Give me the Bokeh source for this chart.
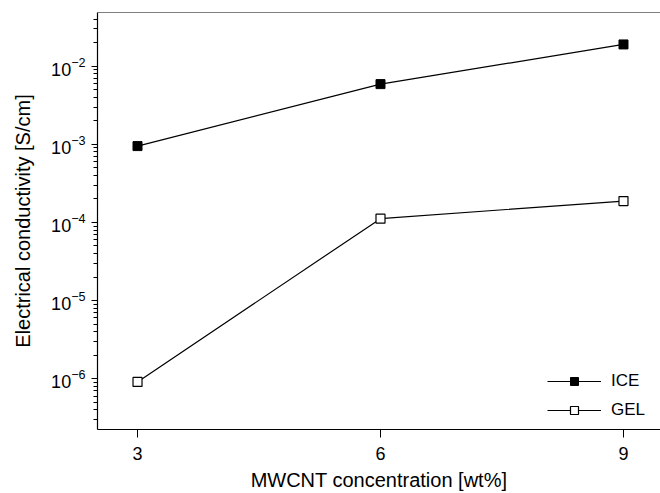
from bokeh.plotting import figure
from bokeh.models import Span, Legend, LegendItem, FixedTicker, LogTicker
from bokeh.embed import file_html
from bokeh.resources import INLINE

concentration = [3, 6, 9]
ice = [9.5e-4, 5.9e-3, 1.9e-2]
gel = [9.1e-7, 1.12e-4, 1.88e-4]
x_ticks = [3, 6, 9]

FONT = "Liberation Sans"

p = figure(width=660, height=493, y_axis_type="log",
           x_range=(2.506, 9.457), y_range=(2.24e-7, 0.0487),
           output_backend="svg", toolbar_location=None,
           min_border_left=97, min_border_right=0, min_border_top=12,
           min_border_bottom=62)
p.background_fill_color = "white"
p.border_fill_color = "white"
p.outline_line_color = None
p.grid.visible = False

# top frame line
p.add_layout(Span(location=0.0487, dimension="width", line_color="black", line_width=1.2))

l1 = p.line(concentration, ice, line_color="black", line_width=1.2)
s1 = p.scatter(concentration, ice, marker="square", size=9, fill_color="black", line_color="black")
l2 = p.line(concentration, gel, line_color="black", line_width=1.2)
s2 = p.scatter(concentration, gel, marker="square", size=9, fill_color="white", line_color="black", line_width=1.2)

for ax in (p.xaxis[0], p.yaxis[0]):
    ax.axis_line_color = "black"
    ax.axis_line_width = 1.2
    ax.major_tick_line_color = "black"
    ax.minor_tick_line_color = "black"
    ax.major_tick_in = 0
    ax.minor_tick_in = 0
    ax.major_label_text_font = FONT
    ax.major_label_text_font_size = "18px"
    ax.major_label_text_color = "black"
    ax.axis_label_text_font = FONT
    ax.axis_label_text_font_size = "20px"
    ax.axis_label_text_font_style = "normal"
    ax.axis_label_text_color = "black"

p.xaxis.ticker = FixedTicker(ticks=x_ticks)
p.xaxis.major_tick_out = 8
p.xaxis.minor_tick_out = 0
p.xaxis.major_label_standoff = 9
p.xaxis.axis_label = "MWCNT concentration [wt%]"
p.xaxis.axis_label_standoff = 6

p.yaxis.ticker = LogTicker(num_minor_ticks=10)
p.yaxis.major_tick_out = 6
p.yaxis.minor_tick_out = 4
p.yaxis.major_label_standoff = 6
p.yaxis.axis_label = "Electrical conductivity [S/cm]"
p.yaxis.axis_label_standoff = 14

legend = Legend(items=[LegendItem(label="ICE", renderers=[l1, s1]),
                       LegendItem(label="GEL", renderers=[l2, s2])],
                location=(450, 9))
legend.border_line_color = None
legend.background_fill_alpha = 0
legend.label_text_font = FONT
legend.label_text_font_size = "17px"
legend.label_text_color = "black"
legend.glyph_width = 54
legend.glyph_height = 20
legend.label_height = 20
legend.label_standoff = 10
legend.spacing = 9
legend.padding = 0
legend.margin = 0
p.add_layout(legend)

open("out.html", "w").write(file_html(p, INLINE))
